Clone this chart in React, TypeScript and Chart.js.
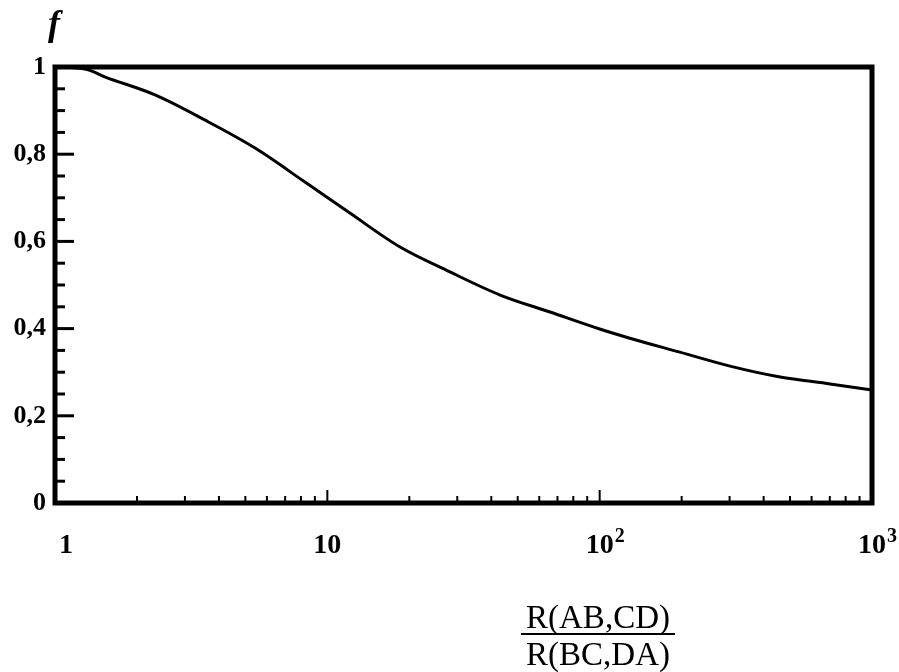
import { useEffect, useRef } from "react";
import { Chart, registerables } from "chart.js";

Chart.register(...registerables);

// Resistance ratio R(AB,CD)/R(BC,DA) and the correction factor f
const ratioValues = [1, 1.3, 1.53, 2.33, 3.56, 5.43, 8.28, 12.1, 18.5, 28.2, 43.1, 65.7, 100, 129, 197, 301, 460, 702, 1000];
const fValues = [1.0, 0.995, 0.977, 0.936, 0.878, 0.814, 0.736, 0.665, 0.587, 0.53, 0.477, 0.438, 0.399, 0.378, 0.346, 0.314, 0.289, 0.273, 0.259];

// Axis tick positions and labels
const xDecades = [1, 10, 100];
const xMultipliers = [1, 2, 3, 4, 5, 6, 7, 8, 9];
const xMajorValues = [1, 10, 100, 1000];
const xLabelBases = ["1", "10", "10", "10"];
const xLabelExponents = ["", "", "2", "3"];
const yMinorStep = 0.05;
const yMajorValues = [0, 0.2, 0.4, 0.6, 0.8, 1];
const yMajorLabels = ["0", "0,2", "0,4", "0,6", "0,8", "1"];

const SERIF = "'Liberation Serif', 'DejaVu Serif', serif";

const xTickValues = [...xDecades.flatMap((d) => xMultipliers.map((m) => d * m)), 1000];
const yTickValues = Array.from({ length: Math.round(1 / yMinorStep) + 1 }, (_, i) => +(i * yMinorStep).toFixed(2));

const findIndex = (list: number[], v: number) => list.findIndex((m) => Math.abs(m - v) < 1e-6 * Math.max(1, m));

const framePlugin = {
  id: "frameTicksTitles",
  afterDraw(chart: any) {
    const { ctx, chartArea, scales } = chart;
    const { left, right, top, bottom } = chartArea;
    const x = scales.x;
    const y = scales.y;
    ctx.save();
    ctx.strokeStyle = "#000";
    ctx.fillStyle = "#000";
    ctx.lineCap = "butt";

    // inward ticks on the left axis
    ctx.lineWidth = 3;
    for (const t of y.ticks) {
      if (t.value <= 0 || t.value >= 1) continue;
      const py = y.getPixelForValue(t.value);
      const major = findIndex(yMajorValues, t.value) >= 0;
      ctx.beginPath();
      ctx.moveTo(left, py);
      ctx.lineTo(left + (major ? 19 : 10), py);
      ctx.stroke();
    }

    // inward ticks on the bottom axis
    ctx.lineWidth = 2;
    for (const t of x.ticks) {
      if (t.value <= 1 || t.value >= 1000) continue;
      const px = x.getPixelForValue(t.value);
      const major = findIndex(xMajorValues, t.value) >= 0;
      ctx.beginPath();
      ctx.moveTo(px, bottom);
      ctx.lineTo(px, bottom - (major ? 13 : 7));
      ctx.stroke();
    }

    // heavy frame around the plot
    ctx.lineWidth = 5;
    ctx.strokeRect(left, top, right - left, bottom - top);

    // decade labels with raised exponents
    ctx.textBaseline = "alphabetic";
    xMajorValues.forEach((v, i) => {
      const px = x.getPixelForValue(v);
      const baseY = bottom + 50;
      ctx.font = `bold 28px ${SERIF}`;
      if (i === 0) {
        ctx.textAlign = "left";
        ctx.fillText(xLabelBases[i], px + 4, baseY);
        return;
      }
      ctx.textAlign = "center";
      ctx.fillText(xLabelBases[i], px, baseY);
      if (xLabelExponents[i]) {
        const w = ctx.measureText(xLabelBases[i]).width;
        ctx.font = `bold 20px ${SERIF}`;
        ctx.textAlign = "left";
        ctx.fillText(xLabelExponents[i], px + w / 2 + 1, baseY - 11);
      }
    });

    // y-axis symbol
    ctx.font = `italic bold 36px ${SERIF}`;
    ctx.textAlign = "center";
    ctx.fillText("f", 54, 35);

    // x-axis quantity written as a fraction
    const cx = 598;
    ctx.font = `33px ${SERIF}`;
    ctx.fillText("R(AB,CD)", cx, 628);
    ctx.fillText("R(BC,DA)", cx, 665);
    ctx.lineWidth = 2;
    ctx.beginPath();
    ctx.moveTo(cx - 77, 634);
    ctx.lineTo(cx + 77, 634);
    ctx.stroke();
    ctx.restore();
  },
};

export default function App() {
  const canvasRef = useRef<HTMLCanvasElement | null>(null);

  useEffect(() => {
    if (!canvasRef.current) return;
    const chart = new Chart(canvasRef.current, {
      type: "scatter",
      data: {
        datasets: [
          {
            data: ratioValues.map((r, i) => ({ x: r, y: fValues[i] })),
            showLine: true,
            borderColor: "#000",
            borderWidth: 3,
            pointRadius: 0,
            cubicInterpolationMode: "monotone",
            fill: false,
          },
        ],
      },
      options: {
        animation: false,
        responsive: false,
        maintainAspectRatio: false,
        layout: { padding: { top: 67, right: 27, left: 0, bottom: 0 } },
        plugins: {
          legend: { display: false },
          tooltip: { enabled: false },
          title: { display: false },
        },
        scales: {
          x: {
            type: "logarithmic",
            min: 1,
            max: 1000,
            grid: { display: false, drawTicks: false },
            border: { display: false },
            afterBuildTicks: (scale: any) => {
              scale.ticks = xTickValues.map((v) => ({ value: v }));
            },
            afterFit: (scale: any) => {
              scale.height = 169;
              scale.paddingLeft = 0;
              scale.paddingRight = 0;
            },
            ticks: { display: false },
          },
          y: {
            type: "linear",
            min: 0,
            max: 1,
            grid: { display: false, drawTicks: false },
            border: { display: false },
            afterBuildTicks: (scale: any) => {
              scale.ticks = yTickValues.map((v) => ({ value: v }));
            },
            afterFit: (scale: any) => {
              scale.width = 55;
            },
            ticks: {
              autoSkip: false,
              padding: 9,
              color: "#000",
              font: { family: SERIF, size: 26, weight: "bold" },
              callback: (v: any) => {
                const i = findIndex(yMajorValues, Number(v));
                return i >= 0 ? yMajorLabels[i] : "";
              },
            },
          },
        },
      },
      plugins: [framePlugin],
    } as any);
    return () => chart.destroy();
  }, []);

  return (
    <div style={{ position: "absolute", left: 0, top: 0, width: 899, height: 672, background: "#fff" }}>
      <canvas ref={canvasRef} width={899} height={672} />
    </div>
  );
}
